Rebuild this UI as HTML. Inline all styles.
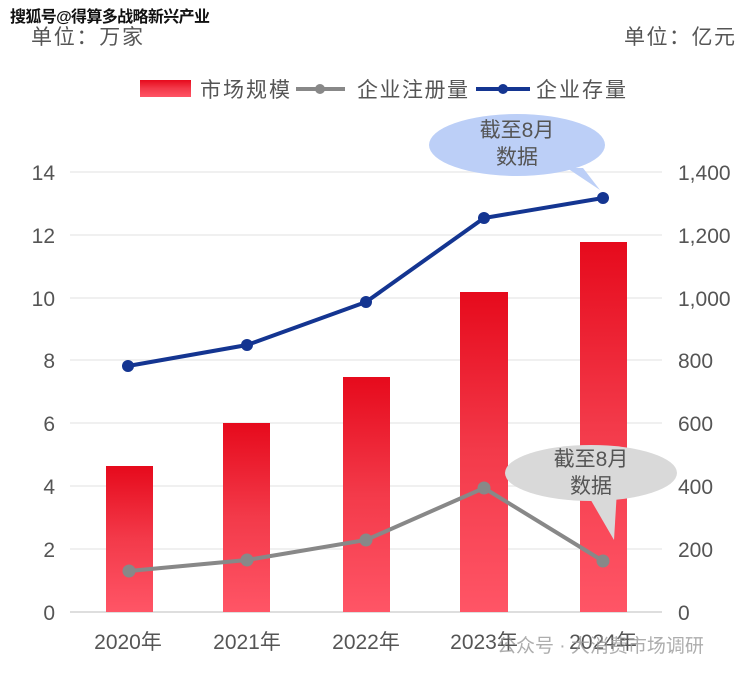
<!DOCTYPE html>
<html><head><meta charset="utf-8"><style>
body{margin:0;background:#fff;}
svg{display:block;font-family:"Liberation Sans","Noto Sans CJK SC",sans-serif;}
</style></head><body>
<svg width="747" height="675" viewBox="0 0 747 675" xmlns="http://www.w3.org/2000/svg">
<defs>
<linearGradient id="g" x1="0" y1="0" x2="0" y2="1"><stop offset="0" stop-color="#e60a1c"/><stop offset="0.5" stop-color="#f33a4a"/><stop offset="1" stop-color="#ff5566"/></linearGradient>
</defs>
<text x="10" y="22" font-size="16" font-weight="bold" fill="#111" textLength="200">搜狐号@得算多战略新兴产业</text>
<text x="31" y="44" font-size="21" fill="#555" textLength="112">单位：万家</text>
<text x="624" y="44" font-size="21" fill="#555" textLength="111">单位：亿元</text>
<rect x="140" y="80" width="51" height="17" fill="url(#g)"/>
<text x="200" y="97" font-size="21" fill="#555" textLength="90">市场规模</text>
<line x1="296" y1="89" x2="345" y2="89" stroke="#888" stroke-width="4"/><circle cx="320" cy="89" r="5" fill="#888"/>
<text x="357" y="97" font-size="21" fill="#555" textLength="111">企业注册量</text>
<line x1="476" y1="89" x2="530" y2="89" stroke="#143591" stroke-width="4"/><circle cx="503" cy="89" r="5" fill="#143591"/>
<text x="536" y="97" font-size="21" fill="#555" textLength="90">企业存量</text>
<g stroke="#ececec" stroke-width="1.5">
<line x1="70" y1="172" x2="662" y2="172"/><line x1="70" y1="235" x2="662" y2="235"/><line x1="70" y1="298" x2="662" y2="298"/><line x1="70" y1="360" x2="662" y2="360"/><line x1="70" y1="423" x2="662" y2="423"/><line x1="70" y1="486" x2="662" y2="486"/><line x1="70" y1="549" x2="662" y2="549"/>
</g>
<line x1="70" y1="612" x2="662" y2="612" stroke="#d4d4d4" stroke-width="1.5"/>
<g font-size="21" fill="#555" text-anchor="end">
<text x="55" y="180">14</text><text x="55" y="243">12</text><text x="55" y="306">10</text><text x="55" y="368">8</text><text x="55" y="431">6</text><text x="55" y="494">4</text><text x="55" y="557">2</text><text x="55" y="620">0</text>
</g>
<g font-size="21" fill="#555" text-anchor="start">
<text x="678" y="180">1,400</text><text x="678" y="243">1,200</text><text x="678" y="306">1,000</text><text x="678" y="368">800</text><text x="678" y="431">600</text><text x="678" y="494">400</text><text x="678" y="557">200</text><text x="678" y="620">0</text>
</g>
<g fill="url(#g)">
<rect x="106" y="466" width="47" height="146"/><rect x="223" y="423" width="47" height="189"/><rect x="343" y="377" width="47" height="235"/><rect x="460" y="292" width="48" height="320"/><rect x="580" y="242" width="47" height="370"/>
</g>
<polyline points="128,366 247,345 366,302 484,218 603,198" fill="none" stroke="#143591" stroke-width="4"/>
<g fill="#143591"><circle cx="128" cy="366" r="6"/><circle cx="247" cy="345" r="6"/><circle cx="366" cy="302" r="6"/><circle cx="484" cy="218" r="6"/><circle cx="603" cy="198" r="6"/></g>
<polyline points="129,571 247,560 366,540 484,488 603,561" fill="none" stroke="#888" stroke-width="4"/>
<g fill="#888"><circle cx="129" cy="571" r="6.5"/><circle cx="247" cy="560" r="6.5"/><circle cx="366" cy="540" r="6.5"/><circle cx="484" cy="488" r="6.5"/><circle cx="603" cy="561" r="6.5"/></g>
<path d="M567,168 L600,190 L583,168 Z" fill="#bccff7"/>
<ellipse cx="517" cy="145" rx="88" ry="31" fill="#bccff7"/>
<text x="517" y="137" font-size="21" fill="#555" text-anchor="middle">截至8月</text>
<text x="517" y="164" font-size="21" fill="#555" text-anchor="middle">数据</text>
<path d="M585,490 L614,540 L617,490 Z" fill="#d9d9d9"/>
<ellipse cx="591" cy="473" rx="86" ry="28" fill="#d9d9d9"/>
<text x="591" y="466" font-size="21" fill="#555" text-anchor="middle">截至8月</text>
<text x="591" y="493" font-size="21" fill="#555" text-anchor="middle">数据</text>
<g font-size="21" fill="#555" text-anchor="middle">
<text x="128" y="649">2020年</text><text x="247" y="649">2021年</text><text x="366" y="649">2022年</text><text x="484" y="649">2023年</text><text x="603" y="649">2024年</text>
</g>
<text x="497" y="652" font-size="19" fill="#999" opacity="0.8">公众号 · 大消费市场调研</text>
</svg>
</body></html>
